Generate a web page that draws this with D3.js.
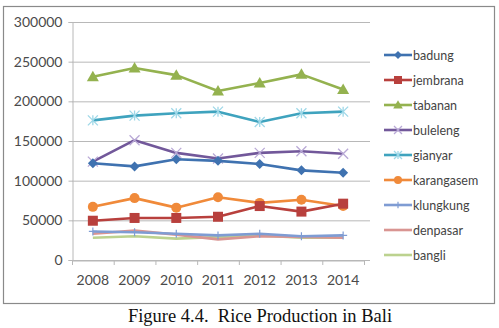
<!DOCTYPE html>
<html>
<head>
<meta charset="utf-8">
<script src="https://cdn.jsdelivr.net/npm/d3@7"></script>
<style>
  body { margin: 0; background: #fff; }
  svg text { font-family: Lato, "Open Sans", sans-serif; }
</style>
</head>
<body>
<svg id="chart" width="499" height="328"></svg>
<script>
const width = 499, height = 328;

const years = ["2008", "2009", "2010", "2011", "2012", "2013", "2014"];
const yTicks = [0, 50000, 100000, 150000, 200000, 250000, 300000];

const badung     = [122000, 118000, 127000, 125000, 121000, 113000, 110000];
const jembrana   = [49500, 53000, 53000, 54500, 68000, 61000, 71000];
const tabanan    = [231000, 242000, 233000, 213000, 223000, 234000, 215000];
const buleleng   = [124000, 151000, 135000, 128000, 135000, 137000, 134000];
const gianyar    = [176000, 182000, 185000, 187000, 174000, 185000, 187000];
const karangasem = [67000, 78000, 66000, 79000, 72000, 76000, 68000];
const klungkung  = [36000, 35000, 33000, 31000, 33000, 30000, 31000];
const denpasar   = [33000, 37000, 32000, 26000, 30000, 29000, 28000];
const bangli     = [28000, 30000, 27000, 29000, 31000, 28000, 28000];

const series = [
  { name: "badung", values: badung, color: "#3F72B0", marker: "diamond" },
  { name: "jembrana", values: jembrana, color: "#B8403D", marker: "square" },
  { name: "tabanan", values: tabanan, color: "#94B24F", marker: "triangle" },
  { name: "buleleng", values: buleleng, color: "#72589A", marker: "x" },
  { name: "gianyar", values: gianyar, color: "#3FA3BE", marker: "star" },
  { name: "karangasem", values: karangasem, color: "#F08A3A", marker: "circle" },
  { name: "klungkung", values: klungkung, color: "#7F9CD3", marker: "plus" },
  { name: "denpasar", values: denpasar, color: "#D99592", marker: "none" },
  { name: "bangli", values: bangli, color: "#BCD28F", marker: "none" }
];

const svg = d3.select("#chart");

// outer frame
svg.append("rect")
  .attr("x", 3.5).attr("y", 6.5)
  .attr("width", 491).attr("height", 297)
  .attr("fill", "#fff").attr("stroke", "#8a8a8a").attr("stroke-width", 1.2);

const x = d3.scaleBand().domain(years).range([72, 364]);
const y = d3.scaleLinear().domain([0, 300000]).range([260, 22]);

// gridlines
svg.append("g")
  .selectAll("line")
  .data(yTicks)
  .join("line")
  .attr("x1", 72).attr("x2", 370)
  .attr("y1", d => y(d) + 0.5).attr("y2", d => y(d) + 0.5)
  .attr("stroke", "#b8b8b8").attr("stroke-width", 1);

// y axis
const yAxis = svg.append("g")
  .attr("transform", "translate(72.5,0)")
  .call(d3.axisLeft(y).tickValues(yTicks).tickSize(4).tickPadding(6).tickFormat(d3.format("d")));
yAxis.select(".domain").attr("stroke", "#b8b8b8");
yAxis.selectAll(".tick line").attr("stroke", "#b8b8b8");
yAxis.selectAll("text").attr("font-size", 14).attr("fill", "#4a4a4a")
  .style("font-family", "Lato, 'Open Sans', sans-serif");

// x axis
const xAxis = svg.append("g")
  .attr("transform", "translate(0,260.5)")
  .call(d3.axisBottom(x).tickSize(0).tickPadding(15));
xAxis.select(".domain").attr("stroke", "#b8b8b8");
xAxis.selectAll("text").attr("font-size", 14).attr("fill", "#4a4a4a")
  .style("font-family", "Lato, 'Open Sans', sans-serif");
// tick marks at band boundaries
svg.append("g")
  .selectAll("line")
  .data(years.map(d => x(d)).concat([x(years[years.length - 1]) + x.bandwidth()]))
  .join("line")
  .attr("x1", d => d + 0.5).attr("x2", d => d + 0.5)
  .attr("y1", 260).attr("y2", 265)
  .attr("stroke", "#b8b8b8");

const cx = d => x(d) + x.bandwidth() / 2;

const line = d3.line()
  .x((d, i) => cx(years[i]))
  .y(d => y(d));

function drawMarker(g, type, color, px, py, scale) {
  const s = scale || 1;
  if (type === "diamond") {
    const r = 5 * s;
    g.append("path").attr("d", `M${px},${py - r}L${px + r},${py}L${px},${py + r}L${px - r},${py}Z`)
      .attr("fill", color);
  } else if (type === "square") {
    const r = 5 * s;
    g.append("rect").attr("x", px - r).attr("y", py - r).attr("width", 2 * r).attr("height", 2 * r)
      .attr("fill", color);
  } else if (type === "triangle") {
    const r = 6 * s;
    g.append("path").attr("d", `M${px},${py - r}L${px + r},${py + r * 0.75}L${px - r},${py + r * 0.75}Z`)
      .attr("fill", color);
  } else if (type === "circle") {
    g.append("circle").attr("cx", px).attr("cy", py).attr("r", 5 * s).attr("fill", color);
  } else if (type === "x") {
    const r = 5 * s;
    g.append("path").attr("d", `M${px - r},${py - r}L${px + r},${py + r}M${px - r},${py + r}L${px + r},${py - r}`)
      .attr("stroke", "#b9a9d6").attr("stroke-width", 1.3);
  } else if (type === "star") {
    const r = 5 * s;
    g.append("path").attr("d", `M${px - r},${py - r}L${px + r},${py + r}M${px - r},${py + r}L${px + r},${py - r}M${px},${py - r}L${px},${py + r}`)
      .attr("stroke", "#9fd8e8").attr("stroke-width", 1.3);
  } else if (type === "plus") {
    const r = 4 * s;
    g.append("path").attr("d", `M${px - r},${py}L${px + r},${py}M${px},${py - r}L${px},${py + r}`)
      .attr("stroke", color).attr("stroke-width", 1.2);
  }
}

// lines, drawn bottom series first so upper ones overlay like the original
const plot = svg.append("g");
series.slice().reverse().forEach(s => {
  plot.append("path")
    .datum(s.values)
    .attr("d", line)
    .attr("fill", "none")
    .attr("stroke", s.color)
    .attr("stroke-width", 2.6)
    .attr("stroke-linejoin", "round");
  const mg = plot.append("g");
  s.values.forEach((v, i) => drawMarker(mg, s.marker, s.color, cx(years[i]), y(v)));
});

// legend
const legend = svg.append("g");
series.forEach((s, i) => {
  const ly = 55 + i * 25;
  legend.append("line")
    .attr("x1", 384).attr("x2", 412)
    .attr("y1", ly).attr("y2", ly)
    .attr("stroke", s.color).attr("stroke-width", 2.6);
  drawMarker(legend, s.marker, s.color, 398, ly, 0.8);
  legend.append("text")
    .attr("x", 413).attr("y", ly + 4.5)
    .attr("font-size", 12.5).attr("fill", "#444")
    .text(s.name);
});

// caption
svg.append("text")
  .attr("x", 260).attr("y", 322)
  .attr("text-anchor", "middle")
  .attr("font-size", 18.5)
  .attr("xml:space", "preserve")
  .style("white-space", "pre")
  .style("font-family", "'Liberation Serif', 'Times New Roman', serif")
  .attr("fill", "#111")
  .text("Figure 4.4.  Rice Production in Bali");
</script>
</body>
</html>
